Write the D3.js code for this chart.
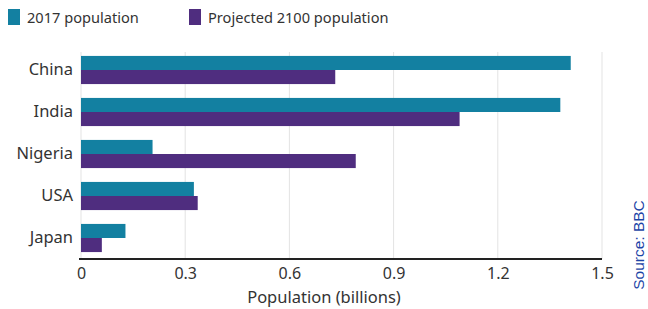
<!DOCTYPE html>
<html>
<head>
<meta charset="utf-8">
<script src="https://cdn.jsdelivr.net/npm/d3@7"></script>
<style>
  body { margin: 0; background: #fff; }
  svg { display: block; font-family: "Noto Sans", sans-serif; }
</style>
</head>
<body>
<div id="chart"></div>
<script>
const countries = ['China', 'India', 'Nigeria', 'USA', 'Japan'];
const series = ['2017 population', 'Projected 2100 population'];
const pop2017 = [1.41, 1.38, 0.206, 0.325, 0.128];
const pop2100 = [0.732, 1.09, 0.791, 0.336, 0.060];
const xTicks = [0, 0.3, 0.6, 0.9, 1.2, 1.5];
const colors = ['#1380A1', '#4F2D7F'];

const width = 648, height = 309;
const mLeft = 81, mRight = 602, mTop = 49, mBottom = 259;

const svg = d3.select('#chart').append('svg')
  .attr('width', width)
  .attr('height', height);

const x = d3.scaleLinear().domain([0, 1.5]).range([mLeft, mRight]);
const y = d3.scaleBand().domain(countries).range([mTop, mBottom])
  .paddingInner(0.33).paddingOuter(0.165);
const ySub = d3.scaleBand().domain(series).range([0, y.bandwidth()]);

// gridlines
svg.append('g')
  .selectAll('line')
  .data(xTicks)
  .join('line')
  .attr('x1', d => x(d)).attr('x2', d => x(d))
  .attr('y1', 52).attr('y2', mBottom)
  .attr('stroke', '#e3e3e3')
  .attr('stroke-width', 1);

// bars
const rows = countries.map((c, i) => ({ country: c, values: [pop2017[i], pop2100[i]] }));
const groups = svg.append('g').selectAll('g')
  .data(rows)
  .join('g')
  .attr('transform', d => 'translate(0,' + y(d.country) + ')');

groups.selectAll('rect')
  .data(d => d.values.map((v, j) => ({ key: series[j], value: v, j })))
  .join('rect')
  .attr('x', x(0))
  .attr('y', d => ySub(d.key))
  .attr('width', d => x(d.value) - x(0))
  .attr('height', ySub.bandwidth())
  .attr('fill', d => colors[d.j]);

// x axis
const xAxis = svg.append('g')
  .attr('transform', 'translate(0,' + mBottom + ')')
  .call(d3.axisBottom(x).tickValues(xTicks).tickSize(0).tickPadding(9)
    .tickFormat(d => d === 0 ? '0' : d3.format('.1f')(d)));
xAxis.select('.domain').remove();
xAxis.append('line')
  .attr('x1', 79).attr('x2', mRight)
  .attr('stroke', '#222').attr('stroke-width', 2);
xAxis.selectAll('text')
  .attr('font-size', 16)
  .attr('fill', '#333')
  .attr('font-family', '"Noto Sans", sans-serif');

// y axis labels
const yAxis = svg.append('g')
  .attr('transform', 'translate(' + mLeft + ',0)')
  .call(d3.axisLeft(y).tickSize(0).tickPadding(8));
yAxis.select('.domain').remove();
yAxis.selectAll('text')
  .attr('font-size', 16.5)
  .attr('fill', '#333')
  .attr('font-family', '"Noto Sans", sans-serif');

// axis title
svg.append('text')
  .attr('x', 324).attr('y', 303)
  .attr('text-anchor', 'middle')
  .attr('font-size', 16.5)
  .attr('fill', '#333')
  .text('Population (billions)');

// legend
const legendX = [8, 189];
const legend = svg.append('g').selectAll('g')
  .data(series)
  .join('g')
  .attr('transform', (d, i) => 'translate(' + legendX[i] + ',0)');
legend.append('rect')
  .attr('x', 0).attr('y', 9)
  .attr('width', 12).attr('height', 16)
  .attr('fill', (d, i) => colors[i]);
legend.append('text')
  .attr('x', 19).attr('y', 23)
  .attr('font-size', 14.6)
  .attr('fill', '#333')
  .text(d => d);

// source
svg.append('text')
  .attr('transform', 'translate(644,245) rotate(-90)')
  .attr('text-anchor', 'middle')
  .attr('font-family', '"Liberation Sans", Arial, sans-serif')
  .attr('font-size', 15.5)
  .attr('fill', '#1b44a6')
  .text('Source: BBC');
</script>
</body>
</html>
